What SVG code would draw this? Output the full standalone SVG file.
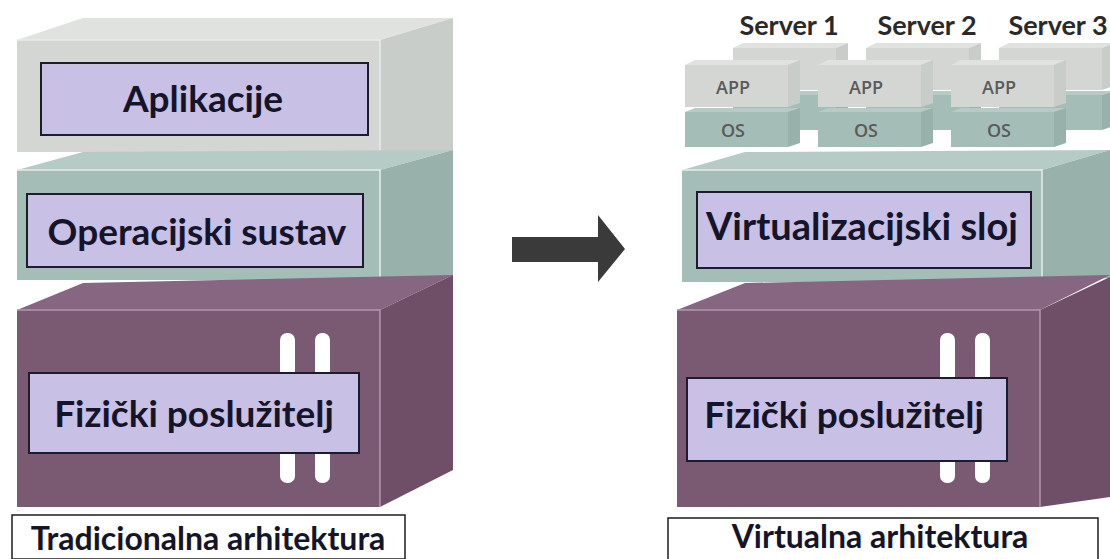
<svg xmlns="http://www.w3.org/2000/svg" width="1110" height="559" viewBox="0 0 1110 559">
<style>
.lbl{fill:#c9c0e6;stroke:#1c1c2c;stroke-width:2}
.t{font-family:Lato,"Open Sans","Liberation Sans",sans-serif;font-weight:bold;fill:#15152a;text-anchor:middle}
.cap{fill:#ffffff;stroke:#1c1c1c;stroke-width:1.5}
.gf{fill:#d3d6d3}.gt{fill:#dfe2df}.gs{fill:#c9cdc9}
.tf{fill:#a5bdb7}.tt{fill:#b6cbc5}.ts{fill:#98b1ab}
.pf{fill:#7a5a72}.pt{fill:#866680}.ps{fill:#6e4f67}
.edge{fill:none;stroke:#e8ecea;stroke-width:1.5}
.pedge{fill:none;stroke:#b596ad;stroke-width:1.5}
.bar{fill:#ffffff}
.mt{font-family:"Open Sans","Liberation Sans",sans-serif;font-weight:600;font-size:18px;fill:#5a5a5a;text-anchor:middle}
.st{font-family:Lato,"Open Sans","Liberation Sans",sans-serif;font-weight:bold;font-size:27px;fill:#2a2a2a;text-anchor:middle}
</style>

<g id="left-stack">
  <g id="left-app-layer">
    <polygon class="gt" points="17,40 83,18 453,18 380,40"/>
    <polygon class="gs" points="380,40 453,18 453,150 380,152"/>
    <rect class="gf" x="17" y="40" width="363" height="112"/>
    <polyline class="edge" points="17,40 380,40 380,152"/>
    <rect class="lbl" x="41" y="63" width="327" height="72"/>
    <text class="t" x="203" y="112" font-size="37">Aplikacije</text>
  </g>
  <g id="left-os-layer">
    <polygon class="tt" points="17,170 83,152 453,150 380,170"/>
    <polygon class="ts" points="380,170 453,150 453,276 380,280"/>
    <rect class="tf" x="17" y="170" width="363" height="110"/>
    <polyline class="edge" points="17,170 380,170 380,280"/>
    <rect class="lbl" x="27" y="194" width="336" height="73"/>
    <text class="t" x="197" y="245" font-size="37">Operacijski sustav</text>
  </g>
  <g id="left-hw-layer">
    <polygon class="pt" points="17,310 83,283 453,275 380,310"/>
    <polygon class="ps" points="380,310 453,275 453,470 380,507"/>
    <rect class="pf" x="17" y="310" width="363" height="197"/>
    <polyline class="pedge" points="17,310 380,310 380,507"/>
    <rect class="bar" x="280" y="333" width="15" height="150" rx="7"/>
    <rect class="bar" x="315" y="333" width="15" height="150" rx="7"/>
    <rect class="lbl" x="29" y="373" width="330" height="80"/>
    <text class="t" x="194" y="427" font-size="37">Fizički poslužitelj</text>
  </g>
  <g id="left-caption">
    <rect class="cap" x="12" y="515" width="393" height="44"/>
    <text class="t" x="208" y="550" font-size="32">Tradicionalna arhitektura</text>
  </g>
</g>

<g id="connectors">
  <polygon fill="#3a3a3a" points="512,237 598,237 598,215 625,249 598,282 598,262 512,262"/>
</g>

<g id="right-stack">
  <g id="servers-back">
    <g transform="translate(733,48)">
      <polygon class="tt" points="0,47 10,43 115,43 103,47"/>
      <polygon class="ts" points="103,47 115,43 115,78 103,82"/>
      <rect class="tf" x="0" y="47" width="103" height="35"/>
      <polygon class="gt" points="0,0 10,-5 115,-5 103,0"/>
      <polygon class="gs" points="103,0 115,-5 115,38 103,42"/>
      <rect class="gf" x="0" y="0" width="103" height="42"/>
    </g>
    <g transform="translate(866,48)">
      <polygon class="tt" points="0,47 10,43 115,43 103,47"/>
      <polygon class="ts" points="103,47 115,43 115,78 103,82"/>
      <rect class="tf" x="0" y="47" width="103" height="35"/>
      <polygon class="gt" points="0,0 10,-5 115,-5 103,0"/>
      <polygon class="gs" points="103,0 115,-5 115,38 103,42"/>
      <rect class="gf" x="0" y="0" width="103" height="42"/>
    </g>
    <g transform="translate(999,48)">
      <polygon class="tt" points="0,47 10,43 115,43 103,47"/>
      <polygon class="ts" points="103,47 115,43 115,78 103,82"/>
      <rect class="tf" x="0" y="47" width="103" height="35"/>
      <polygon class="gt" points="0,0 10,-5 115,-5 103,0"/>
      <polygon class="gs" points="103,0 115,-5 115,38 103,42"/>
      <rect class="gf" x="0" y="0" width="103" height="42"/>
    </g>
  </g>
  <g id="server-1">
    <polygon class="gt" points="685,65 695,60 800,60 788,65"/>
    <polygon class="gs" points="788,65 800,60 800,103 788,107"/>
    <rect class="gf" x="685" y="65" width="103" height="42"/>
    <polygon class="tt" points="685,112 695,108 800,108 788,112"/>
    <polygon class="ts" points="788,112 800,108 800,143 788,147"/>
    <rect class="tf" x="685" y="112" width="103" height="35"/>
    <text class="mt" x="733" y="94">APP</text>
    <text class="mt" x="733" y="137">OS</text>
    <text class="st" x="789" y="35">Server 1</text>
  </g>
  <g id="server-2">
    <polygon class="gt" points="818,65 828,60 933,60 921,65"/>
    <polygon class="gs" points="921,65 933,60 933,103 921,107"/>
    <rect class="gf" x="818" y="65" width="103" height="42"/>
    <polygon class="tt" points="818,112 828,108 933,108 921,112"/>
    <polygon class="ts" points="921,112 933,108 933,143 921,147"/>
    <rect class="tf" x="818" y="112" width="103" height="35"/>
    <text class="mt" x="866" y="94">APP</text>
    <text class="mt" x="866" y="137">OS</text>
    <text class="st" x="927" y="35">Server 2</text>
  </g>
  <g id="server-3">
    <polygon class="gt" points="951,65 961,60 1066,60 1054,65"/>
    <polygon class="gs" points="1054,65 1066,60 1066,103 1054,107"/>
    <rect class="gf" x="951" y="65" width="103" height="42"/>
    <polygon class="tt" points="951,112 961,108 1066,108 1054,112"/>
    <polygon class="ts" points="1054,112 1066,108 1066,143 1054,147"/>
    <rect class="tf" x="951" y="112" width="103" height="35"/>
    <text class="mt" x="999" y="94">APP</text>
    <text class="mt" x="999" y="137">OS</text>
    <text class="st" x="1058" y="35">Server 3</text>
  </g>
  <g id="virt-layer">
    <polygon class="tt" points="682,170 745,152 1110,150 1042,170"/>
    <polygon class="ts" points="1042,170 1110,150 1110,278 1042,282"/>
    <rect class="tf" x="682" y="170" width="360" height="112"/>
    <polyline class="edge" points="682,170 1042,170 1042,282"/>
    <rect class="lbl" x="697" y="192" width="334" height="76"/>
    <text class="t" x="862" y="240" font-size="38">Virtualizacijski sloj</text>
  </g>
  <g id="right-hw-layer">
    <polygon class="pt" points="677,310 745,283 1110,275 1040,310"/>
    <polygon class="ps" points="1040,310 1110,277 1110,497 1040,507"/>
    <rect class="pf" x="677" y="310" width="363" height="197"/>
    <polyline class="pedge" points="677,310 1040,310 1040,507"/>
    <rect class="bar" x="940" y="333" width="15" height="150" rx="7"/>
    <rect class="bar" x="975" y="333" width="15" height="150" rx="7"/>
    <rect class="lbl" x="687" y="378" width="320" height="83"/>
    <text class="t" x="844" y="428" font-size="37">Fizički poslužitelj</text>
  </g>
  <g id="right-caption">
    <rect class="cap" x="668" y="518" width="430" height="44"/>
    <text class="t" x="880" y="548" font-size="32">Virtualna arhitektura</text>
  </g>
</g>
</svg>
